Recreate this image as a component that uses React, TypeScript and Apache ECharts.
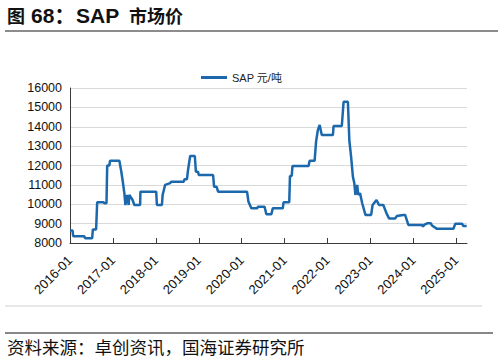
import React, { useEffect, useRef } from "react";
import * as echarts from "echarts";

const seriesName = "SAP 元/吨";

const dates: string[] = [
  "2016-01-01", "2016-01-22", "2016-01-28", "2016-05-01", "2016-05-07", "2016-07-07",
  "2016-07-13", "2016-08-10", "2016-08-19", "2016-10-13", "2016-10-19", "2016-11-07",
  "2016-11-13", "2016-12-01", "2016-12-07", "2017-02-25", "2017-03-10", "2017-03-22",
  "2017-04-07", "2017-04-16", "2017-04-28", "2017-05-13", "2017-05-19", "2017-06-16",
  "2017-07-01", "2017-08-19", "2017-08-22", "2018-01-04", "2018-01-10", "2018-02-22",
  "2018-02-28", "2018-03-19", "2018-05-01", "2018-05-10", "2018-08-25", "2018-09-01",
  "2018-09-22", "2018-10-01", "2018-10-19", "2018-11-28", "2018-12-07", "2018-12-25",
  "2019-01-01", "2019-05-01", "2019-05-10", "2019-06-01", "2019-06-13", "2020-02-16",
  "2020-02-28", "2020-03-22", "2020-05-10", "2020-05-19", "2020-07-13", "2020-07-28",
  "2020-09-10", "2020-09-22", "2020-12-16", "2020-12-22", "2021-02-10", "2021-02-16",
  "2021-03-01", "2021-03-07", "2021-07-22", "2021-08-01", "2021-09-13", "2021-09-25",
  "2021-10-10", "2021-10-25", "2021-11-13", "2022-02-16", "2022-02-22", "2022-05-01",
  "2022-05-16", "2022-06-22", "2022-07-04", "2022-07-19", "2022-08-04", "2022-08-16",
  "2022-08-25", "2022-09-10", "2022-09-19", "2022-10-04", "2022-10-22", "2022-11-19",
  "2023-01-07", "2023-01-19", "2023-02-22", "2023-03-13", "2023-04-19", "2023-05-16",
  "2023-06-07", "2023-07-28", "2023-08-13", "2023-10-07", "2023-10-22", "2023-11-19",
  "2024-03-13", "2024-03-22", "2024-04-01", "2024-05-01", "2024-05-28", "2024-06-07",
  "2024-07-19", "2024-12-07", "2024-12-22", "2025-02-19", "2025-03-01", "2025-03-28",
];

const prices: number[] = [
  8650, 8650, 8350, 8350, 8250, 8250,
  8700, 8700, 10100, 10100, 10050, 10050,
  12000, 12000, 12250, 12250, 11730, 11250,
  10560, 9960, 10480, 9960, 10480, 10220,
  9960, 9960, 10650, 10650, 9960, 9960,
  10480, 11000, 11090, 11160, 11160, 11290,
  11290, 11770, 12490, 12490, 11680, 11680,
  11510, 11510, 10900, 10900, 10650, 10650,
  10130, 9790, 9790, 9870, 9870, 9480,
  9480, 9790, 9790, 10100, 10100, 11460,
  11460, 11970, 11970, 12250, 12250, 13230,
  13830, 14090, 13570, 13570, 14040, 14040,
  15290, 15290, 13300, 12450, 11420, 11080,
  10480, 11000, 10480, 10570, 10050, 9450,
  9450, 9960, 10220, 9960, 9960, 9530,
  9270, 9270, 9390, 9450, 9450, 8930,
  8930, 8850, 8930, 9020, 9020, 8900,
  8730, 8730, 8990, 8990, 8880, 8880,
];

const xTickLabels: string[] = [
  "2016-01", "2017-01", "2018-01", "2019-01", "2020-01",
  "2021-01", "2022-01", "2023-01", "2024-01", "2025-01",
];

const yMin = 8000;
const yMax = 16000;
const yStep = 1000;

const titleParts: string[] = ["图", "68：", "SAP", "市场价"];
const sourceText = "资料来源：卓创资讯，国海证券研究所";

const baseYear = 2016;
const toMonths = (d: string): number => {
  const [y, m, day] = d.split("-").map(Number);
  return (y - baseYear) * 12 + (m - 1) + (day - 1) / 30;
};
const labelToMonths = (l: string): number => toMonths(l + "-01");

export default function App() {
  const ref = useRef<HTMLDivElement>(null);

  useEffect(() => {
    if (!ref.current) return;
    const chart = echarts.init(ref.current, null, { renderer: "svg" });
    const tickValues = xTickLabels.map(labelToMonths);
    const labelMap: Record<string, string> = {};
    xTickLabels.forEach((l, i) => {
      labelMap[String(tickValues[i])] = l;
    });
    const data = dates.map((d, i) => [toMonths(d), prices[i]]);
    const latin = "Arial, 'Liberation Sans', 'Noto Sans CJK SC', sans-serif";
    const cjk = "'Noto Sans CJK SC', sans-serif";

    const titleX = [7, 31, 76, 129];
    const titleSize = [18, 21, 21, 18];
    const titleFont = [cjk, latin, latin, cjk];

    chart.setOption({
      animation: false,
      backgroundColor: "#ffffff",
      legend: {
        left: 196,
        top: 67,
        icon: "rect",
        itemWidth: 26,
        itemHeight: 3,
        itemGap: 10,
        textStyle: { fontSize: 11, color: "#222", fontFamily: latin },
        data: [seriesName],
      },
      grid: { left: 70, right: 31, top: 88, bottom: 118 },
      xAxis: {
        type: "value",
        min: 0,
        max: 111,
        interval: 12,
        axisLine: { show: true, lineStyle: { color: "#3a3a3a", width: 1 } },
        axisTick: {
          show: true,
          inside: true,
          length: 5,
          customValues: tickValues,
          lineStyle: { color: "#3a3a3a" },
        },
        axisLabel: {
          rotate: 45,
          margin: 15,
          fontSize: 13,
          color: "#111",
          fontFamily: latin,
          customValues: tickValues,
          formatter: (v: number) => labelMap[String(v)] ?? "",
        },
        splitLine: { show: false },
      },
      yAxis: {
        type: "value",
        min: yMin,
        max: yMax,
        interval: yStep,
        axisLine: { show: true, lineStyle: { color: "#3a3a3a", width: 1 } },
        axisTick: { show: false },
        axisLabel: {
          fontSize: 12.5,
          color: "#111",
          margin: 8,
          fontFamily: latin,
          formatter: (v: number) => String(v),
        },
        splitLine: { show: true, lineStyle: { color: "#d9d9d9", width: 1 } },
      },
      series: [
        {
          name: seriesName,
          type: "line",
          data,
          showSymbol: false,
          symbol: "none",
          lineStyle: { color: "#1c68ac", width: 2.5 },
          itemStyle: { color: "#1c68ac" },
        },
      ],
      graphic: [
        ...titleParts.map((t, i) => ({
          type: "text",
          x: titleX[i],
          y: 15,
          style: {
            text: t,
            fontSize: titleSize[i],
            fontWeight: "bold",
            fill: "#111",
            fontFamily: titleFont[i],
            verticalAlign: "middle",
          },
        })),
        {
          type: "line",
          shape: { x1: 5, y1: 31, x2: 498, y2: 31 },
          style: { stroke: "#666", lineWidth: 1.5 },
        },
        {
          type: "line",
          shape: { x1: 5, y1: 306, x2: 482, y2: 306 },
          style: { stroke: "#d0d0d0", lineWidth: 1 },
        },
        {
          type: "line",
          shape: { x1: 5, y1: 333, x2: 493, y2: 333 },
          style: { stroke: "#111", lineWidth: 1.2 },
        },
        {
          type: "text",
          x: 7,
          y: 346,
          style: {
            text: sourceText,
            fontSize: 17.5,
            fill: "#111",
            fontFamily: cjk,
            verticalAlign: "middle",
          },
        },
      ],
    });
    return () => chart.dispose();
  }, []);

  return (
    <div
      ref={ref}
      style={{ position: "absolute", left: 0, top: 0, width: 498, height: 361 }}
    />
  );
}
